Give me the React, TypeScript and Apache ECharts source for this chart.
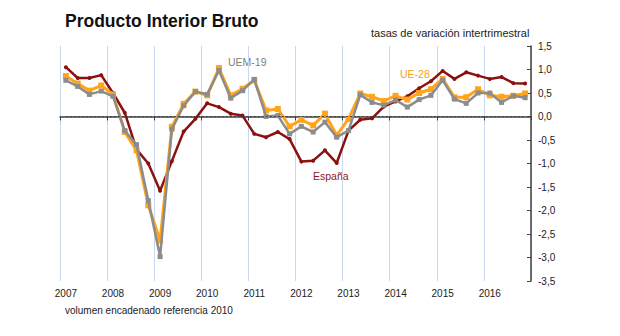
import React, { useEffect, useRef } from "react";
import * as echarts from "echarts";

const years = ["2007", "2008", "2009", "2010", "2011", "2012", "2013", "2014", "2015", "2016"];
const quarters = ["I", "II", "III", "IV"];
const categories: string[] = [];
years.forEach((y) => quarters.forEach((q) => categories.push(y + " " + q)));

const espana = [
  1.05, 0.82, 0.82, 0.88,
  0.50, 0.08, -0.70, -1.00,
  -1.58, -0.95, -0.32, -0.05,
  0.28, 0.20, 0.06, 0.02,
  -0.37, -0.44, -0.33, -0.48,
  -0.96, -0.94, -0.72, -0.99,
  -0.30, -0.07, -0.04, 0.21,
  0.32, 0.43, 0.60, 0.75,
  0.97, 0.80, 0.94, 0.87,
  0.80, 0.84, 0.71, 0.70,
];

const ue28 = [
  0.86, 0.70, 0.55, 0.66,
  0.47, -0.33, -0.72, -1.89,
  -2.64, -0.22, 0.27, 0.53,
  0.45, 1.03, 0.45, 0.59,
  0.77, 0.13, 0.16, -0.21,
  -0.07, -0.19, 0.06, -0.40,
  -0.05, 0.49, 0.42, 0.33,
  0.44, 0.36, 0.50, 0.58,
  0.80, 0.41, 0.41, 0.58,
  0.45, 0.42, 0.44, 0.49,
];

const uem19 = [
  0.77, 0.64, 0.47, 0.54,
  0.43, -0.30, -0.60, -1.79,
  -2.98, -0.27, 0.23, 0.53,
  0.47, 0.98, 0.39, 0.55,
  0.79, 0.00, 0.02, -0.37,
  -0.21, -0.33, -0.12, -0.44,
  -0.30, 0.46, 0.30, 0.24,
  0.35, 0.20, 0.36, 0.45,
  0.77, 0.37, 0.28, 0.50,
  0.50, 0.30, 0.44, 0.40,
];

const FONT = "'Liberation Sans', Arial, sans-serif";
const RED = "#8B1111";
const ORANGE = "#FFA41B";
const GRAY = "#8C8C8C";

export default function App() {
  const ref = useRef<HTMLDivElement>(null);
  useEffect(() => {
    document.body.style.margin = "0";
    const chart = echarts.init(ref.current!, null, { renderer: "svg" });
    chart.setOption({
      animation: false,
      backgroundColor: "#ffffff",
      textStyle: { fontFamily: FONT },
      grid: { left: 60, right: 89, top: 46, bottom: 55 },
      xAxis: {
        type: "category",
        data: categories,
        boundaryGap: true,
        axisLine: { show: true, lineStyle: { color: "#404040", width: 1.5 } },
        axisTick: { show: true, interval: 3, length: 4, lineStyle: { color: "#404040" } },
        axisLabel: {
          interval: 3,
          margin: 7,
          fontSize: 10,
          color: "#222",
          fontFamily: FONT,
          formatter: (v: string) => v.split(" ")[0],
        },
        splitLine: { show: true, interval: 3, lineStyle: { color: "#C9D8F0", width: 1 } },
      },
      yAxis: {
        type: "value",
        position: "right",
        min: -3.5,
        max: 1.5,
        interval: 0.5,
        axisLine: { show: true, lineStyle: { color: "#404040", width: 1.5 } },
        axisTick: { show: true, inside: true, length: 4, lineStyle: { color: "#404040" } },
        axisLabel: {
          margin: 7,
          fontSize: 10,
          color: "#222",
          fontFamily: FONT,
          formatter: (v: number) => v.toFixed(1).replace(".", ","),
        },
        splitLine: { show: false },
      },
      series: [
        {
          name: "España",
          type: "line",
          data: espana,
          symbol: "circle",
          symbolSize: 4,
          lineStyle: { color: RED, width: 2.5 },
          itemStyle: { color: RED },
          markLine: {
            silent: true,
            symbol: "none",
            label: { show: false },
            lineStyle: { color: "#444", width: 1, type: [2, 2] },
            data: [[{ coord: [0, 0] }, { coord: [categories.length - 1, 0] }]],
          },
          z: 2,
        },
        {
          name: "UE-28",
          type: "line",
          data: ue28,
          symbol: "rect",
          symbolSize: 6,
          lineStyle: { color: ORANGE, width: 3 },
          itemStyle: { color: ORANGE },
          z: 3,
        },
        {
          name: "UEM-19",
          type: "line",
          data: uem19,
          symbol: "rect",
          symbolSize: 5,
          lineStyle: { color: GRAY, width: 2.5 },
          itemStyle: { color: GRAY },
          z: 4,
        },
      ],
      graphic: [
        {
          type: "text",
          left: 65,
          top: 12,
          style: { text: "Producto Interior Bruto", fontSize: 17.5, fontWeight: "bold", fill: "#111", fontFamily: FONT },
        },
        {
          type: "text",
          left: 371,
          top: 27,
          style: { text: "tasas de variación intertrimestral", fontSize: 11, fill: "#222", fontFamily: FONT },
        },
        {
          type: "text",
          left: 65,
          top: 305,
          style: { text: "volumen encadenado referencia 2010", fontSize: 10, fill: "#222", fontFamily: FONT },
        },
        {
          type: "text",
          left: 228,
          top: 56,
          style: { text: "UEM-19", fontSize: 10.5, fill: "#808080", fontFamily: FONT },
        },
        {
          type: "text",
          left: 400,
          top: 68,
          style: { text: "UE-28", fontSize: 10.5, fill: "#F7A11A", fontFamily: FONT },
        },
        {
          type: "text",
          left: 313,
          top: 170,
          style: { text: "España", fontSize: 10.5, fill: "#8B1A1A", fontFamily: FONT },
        },
      ],
    });
    return () => chart.dispose();
  }, []);
  return <div ref={ref} style={{ width: 620, height: 336, position: "absolute", left: 0, top: 0 }} />;
}
